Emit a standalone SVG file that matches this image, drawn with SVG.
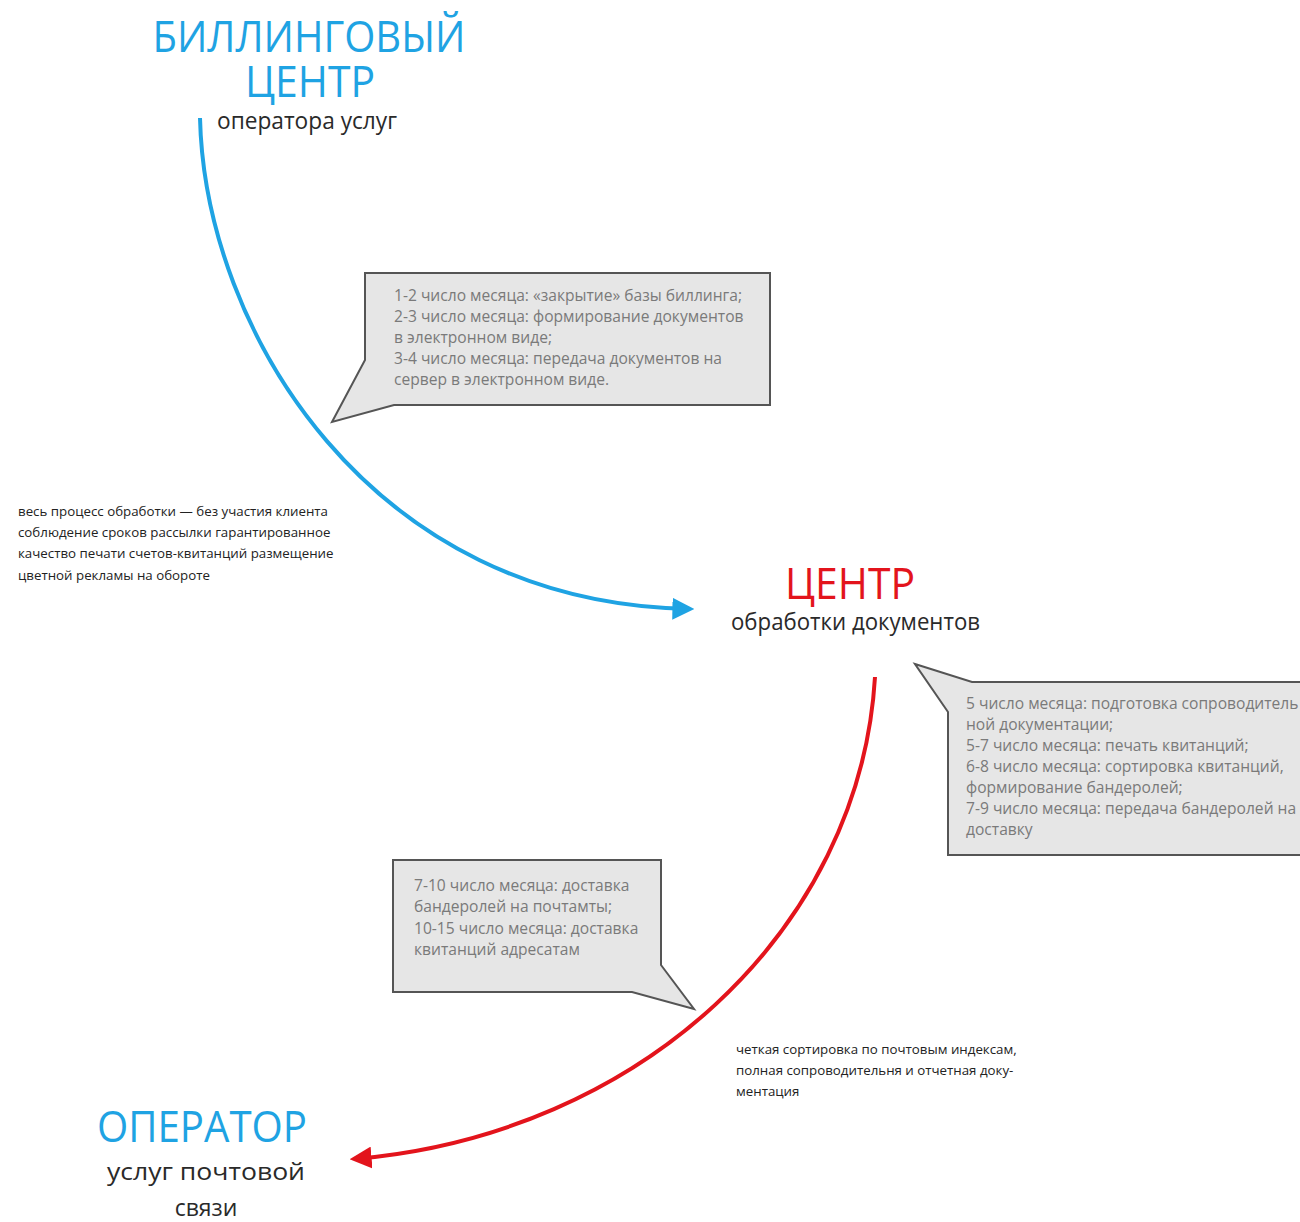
<svg xmlns="http://www.w3.org/2000/svg" width="1300" height="1222" viewBox="0 0 1300 1222">
<defs>
<style>
.title{font-family:"Open Sans","Noto Sans",sans-serif;font-size:43px;}
.blue{fill:#1fa3e3;}
.red{fill:#e3141c;}
.sub{font-family:"Open Sans","Noto Sans",sans-serif;fill:#2a2a2a;font-size:23px;}
.note{font-family:"Open Sans","Noto Sans",sans-serif;fill:#7a7a7a;font-size:15.6px;}
.small{font-family:"Open Sans","Noto Sans",sans-serif;fill:#222;font-size:13.3px;}
.bubble{fill:#e6e6e6;stroke:#555;stroke-width:2;stroke-linejoin:miter;}
</style>
<marker id="arrBlue" viewBox="0 0 10 10" refX="8" refY="5" markerWidth="5.5" markerHeight="5.5" orient="auto" markerUnits="strokeWidth">
<path d="M0,0 L10,5 L0,10 Z" fill="#1fa3e3"/>
</marker>
<marker id="arrRed" viewBox="0 0 10 10" refX="8" refY="5" markerWidth="5.5" markerHeight="5.5" orient="auto" markerUnits="strokeWidth">
<path d="M0,0 L10,5 L0,10 Z" fill="#e3141c"/>
</marker>
</defs>
<rect width="1300" height="1222" fill="#ffffff"/>

<g id="connectors">
<path d="M200,118 C205,330 370,604 690,609" fill="none" stroke="#1fa3e3" stroke-width="4" marker-end="url(#arrBlue)"/>
<path d="M875,677 C860,930 640,1135 354,1159" fill="none" stroke="#e3141c" stroke-width="4" marker-end="url(#arrRed)"/>
</g>

<g id="billing-center">
<text class="title blue" x="309" y="52" text-anchor="middle" textLength="313" lengthAdjust="spacingAndGlyphs">БИЛЛИНГОВЫЙ</text>
<text class="title blue" x="310" y="97" text-anchor="middle" textLength="130" lengthAdjust="spacingAndGlyphs">ЦЕНТР</text>
<text class="sub" x="217" y="129" textLength="180" lengthAdjust="spacingAndGlyphs">оператора услуг</text>
</g>

<g id="processing-center">
<text class="title red" x="850" y="599" text-anchor="middle" textLength="130" lengthAdjust="spacingAndGlyphs">ЦЕНТР</text>
<text class="sub" x="731" y="630" textLength="249" lengthAdjust="spacingAndGlyphs">обработки документов</text>
</g>

<g id="postal-operator">
<text class="title blue" x="202" y="1142" text-anchor="middle" textLength="210" lengthAdjust="spacingAndGlyphs">ОПЕРАТОР</text>
<text class="sub" x="206" y="1180" text-anchor="middle" textLength="198" lengthAdjust="spacingAndGlyphs">услуг почтовой</text>
<text class="sub" x="206" y="1216" text-anchor="middle">связи</text>
</g>

<g id="callout-billing">
<path class="bubble" d="M365,273 L770,273 L770,405 L394,405 L332,422 L365,360 Z"/>
<text class="note" x="394" y="301">1-2 число месяца: «закрытие» базы биллинга;</text>
<text class="note" x="394" y="322">2-3 число месяца: формирование документов</text>
<text class="note" x="394" y="343">в электронном виде;</text>
<text class="note" x="394" y="364">3-4 число месяца: передача документов на</text>
<text class="note" x="394" y="385">сервер в электронном виде.</text>
</g>

<g id="callout-processing">
<path class="bubble" d="M915,664 L972,682 L1310,682 L1310,855 L948,855 L948,712 Z"/>
<text class="note" x="966" y="709">5 число месяца: подготовка сопроводитель</text>
<text class="note" x="966" y="730">ной документации;</text>
<text class="note" x="966" y="751">5-7 число месяца: печать квитанций;</text>
<text class="note" x="966" y="772">6-8 число месяца: сортировка квитанций,</text>
<text class="note" x="966" y="793">формирование бандеролей;</text>
<text class="note" x="966" y="814">7-9 число месяца: передача бандеролей на</text>
<text class="note" x="966" y="835">доставку</text>
</g>

<g id="callout-delivery">
<path class="bubble" d="M393,860 L661,860 L661,965 L694,1009 L632,992 L393,992 Z"/>
<text class="note" x="414" y="891">7-10 число месяца: доставка</text>
<text class="note" x="414" y="912">бандеролей на почтамты;</text>
<text class="note" x="414" y="934">10-15 число месяца: доставка</text>
<text class="note" x="414" y="955">квитанций адресатам</text>
</g>

<g id="note-left">
<text class="small" x="18" y="516">весь процесс обработки — без участия клиента</text>
<text class="small" x="18" y="537">соблюдение сроков рассылки гарантированное</text>
<text class="small" x="18" y="558">качество печати счетов-квитанций размещение</text>
<text class="small" x="18" y="580">цветной рекламы на обороте</text>
</g>

<g id="note-right">
<text class="small" x="736" y="1054">четкая сортировка по почтовым индексам,</text>
<text class="small" x="736" y="1075">полная сопроводительня и отчетная доку-</text>
<text class="small" x="736" y="1096">ментация</text>
</g>
</svg>
